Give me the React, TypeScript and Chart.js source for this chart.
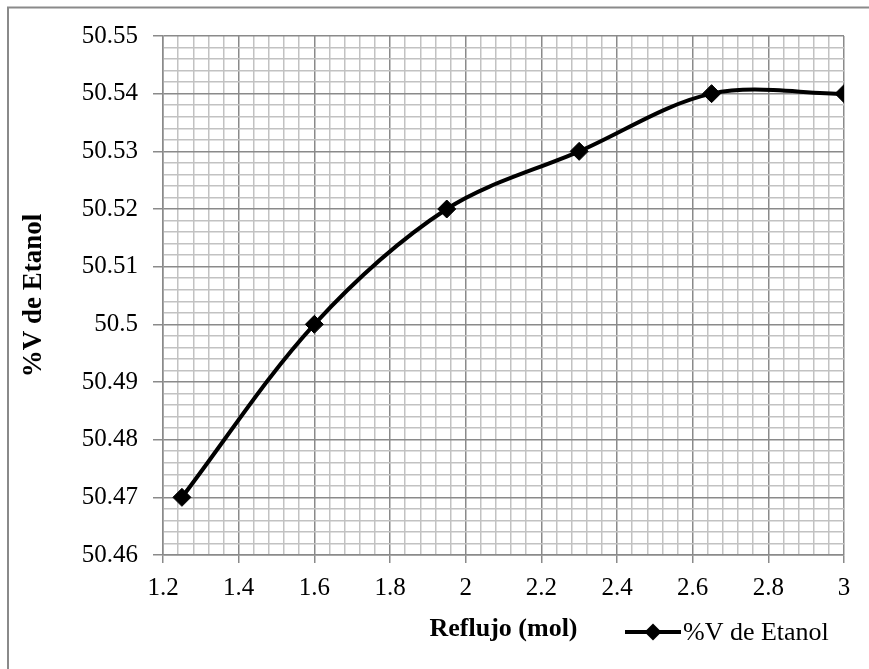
import React, { useEffect, useRef } from 'react';
import { Chart, registerables } from 'chart.js';

Chart.register(...registerables);

// ---- data ----
const refluxValues = [1.25, 1.6, 1.95, 2.3, 2.65, 3];
const ethanolValues = [50.47, 50.5, 50.52, 50.53, 50.54, 50.54];
const seriesLabel = '%V de Etanol';
const xTitle = 'Reflujo (mol)';
const yTitle = '%V de Etanol';
const xMin = 1.2;
const xMax = 3;
const xMinorStep = 0.04;
const yMin = 50.46;
const yMax = 50.55;
const yMinorStep = 0.002;
const minorPerMajor = 5;

const FONT = "'Liberation Serif', 'Times New Roman', serif";
const MAJOR = '#8a8a8a';
const MINOR = '#c2c2c2';

export default function App() {
  const ref = useRef<HTMLCanvasElement | null>(null);

  useEffect(() => {
    if (!ref.current) return;
    const isMajor = (i: number) => i % minorPerMajor === 0;

    const framePlugin = {
      id: 'frame',
      beforeDraw(chart: any) {
        const { ctx, width, height } = chart;
        ctx.save();
        ctx.fillStyle = '#ffffff';
        ctx.fillRect(0, 0, width, height);
        ctx.strokeStyle = '#8a8a8a';
        ctx.lineWidth = 2;
        ctx.strokeRect(8, 7.5, width + 20, height + 20);
        ctx.restore();
      },
    };

    const legendPlugin = {
      id: 'customLegend',
      afterDraw(chart: any) {
        const { ctx } = chart;
        const ds = chart.data.datasets[0];
        const y = 632;
        const x0 = 625;
        const x1 = 681;
        ctx.save();
        ctx.strokeStyle = ds.borderColor;
        ctx.lineWidth = 4;
        ctx.beginPath();
        ctx.moveTo(x0, y);
        ctx.lineTo(x1, y);
        ctx.stroke();
        const cx = (x0 + x1) / 2;
        const r = 8.5;
        ctx.fillStyle = ds.pointBackgroundColor;
        ctx.beginPath();
        ctx.moveTo(cx, y - r);
        ctx.lineTo(cx + r, y);
        ctx.lineTo(cx, y + r);
        ctx.lineTo(cx - r, y);
        ctx.closePath();
        ctx.fill();
        ctx.fillStyle = '#000';
        ctx.font = `26px ${FONT}`;
        ctx.textBaseline = 'middle';
        ctx.textAlign = 'left';
        ctx.fillText(ds.label, 683, y + 1);
        ctx.restore();
      },
    };

    const chart = new Chart(ref.current, {
      type: 'line',
      data: {
        datasets: [
          {
            label: seriesLabel,
            data: refluxValues.map((x, i) => ({ x, y: ethanolValues[i] })),
            borderColor: '#000000',
            backgroundColor: '#000000',
            borderWidth: 4,
            tension: 0.33,
            pointStyle: 'rectRot',
            pointRadius: 9,
            pointBorderWidth: 1,
            pointBackgroundColor: '#000000',
            pointBorderColor: '#000000',
            fill: false,
          },
        ],
      },
      options: {
        responsive: false,
        animation: false,
        devicePixelRatio: 1,
        layout: { padding: { top: 36, right: 25, left: 0, bottom: 0 } },
        plugins: {
          legend: { display: false },
          tooltip: { enabled: false },
        },
        scales: {
          x: {
            type: 'linear',
            min: xMin,
            max: xMax,
            afterFit(scale: any) {
              scale.height = 114;
            },
            ticks: {
              stepSize: xMinorStep,
              autoSkip: false,
              maxRotation: 0,
              minRotation: 0,
              padding: 10,
              color: '#000',
              font: { family: FONT, size: 25 },
              callback: (v: any, i: number) =>
                isMajor(i) ? String(Math.round(Number(v) * 10) / 10) : '',
            },
            grid: {
              color: (c: any) => (isMajor(c.index) ? MAJOR : MINOR),
              tickColor: (c: any) => (isMajor(c.index) ? MAJOR : 'rgba(0,0,0,0)'),
              lineWidth: 1.5,
              tickLength: 8,
            },
            border: { color: MAJOR, width: 1.5 },
            title: {
              display: true,
              text: xTitle,
              color: '#000',
              font: { family: FONT, size: 26, weight: 'bold' },
              padding: { top: 0, bottom: 24 },
            },
          },
          y: {
            type: 'linear',
            min: yMin,
            max: yMax,
            afterFit(scale: any) {
              scale.width = 163;
            },
            ticks: {
              stepSize: yMinorStep,
              autoSkip: false,
              padding: 15,
              color: '#000',
              font: { family: FONT, size: 25 },
              callback: (v: any, i: number) =>
                isMajor(i) ? String(Math.round(Number(v) * 100) / 100) : '',
            },
            grid: {
              color: (c: any) => (isMajor(c.index) ? MAJOR : MINOR),
              tickColor: (c: any) => (isMajor(c.index) ? MAJOR : 'rgba(0,0,0,0)'),
              lineWidth: 1.5,
              tickLength: 10,
            },
            border: { color: MAJOR, width: 1.5 },
            title: {
              display: true,
              text: yTitle,
              color: '#000',
              font: { family: FONT, size: 27, weight: 'bold' },
              padding: { top: 18, bottom: 0 },
            },
          },
        },
      },
      plugins: [framePlugin, legendPlugin],
    });
    return () => chart.destroy();
  }, []);

  return (
    <canvas
      ref={ref}
      width={869}
      height={669}
      style={{ position: 'fixed', left: 0, top: 0, display: 'block', width: 869, height: 669 }}
    />
  );
}
